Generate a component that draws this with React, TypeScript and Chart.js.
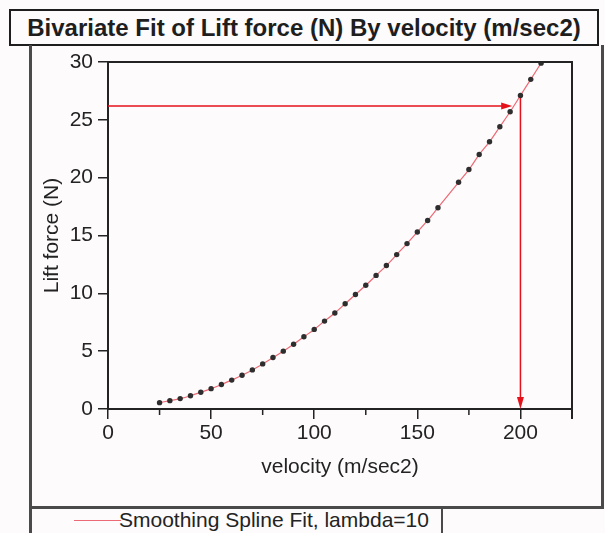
import React, { useEffect, useRef } from 'react';
import { Chart, registerables } from 'chart.js';

Chart.register(...registerables);

const FONT = 'Arial, "Liberation Sans", sans-serif';

const velocity = [25, 30, 35, 40, 45, 50, 55, 60, 65, 70, 75, 80, 85, 90, 95, 100, 105, 110, 115, 120, 125, 130, 135, 140, 145, 150, 155, 160, 170, 175, 180, 185, 190, 195, 200, 205, 210];
const liftForce = [0.55, 0.72, 0.9, 1.15, 1.45, 1.76, 2.12, 2.5, 2.92, 3.38, 3.9, 4.45, 5.0, 5.6, 6.25, 6.88, 7.6, 8.3, 9.1, 9.9, 10.7, 11.55, 12.4, 13.35, 14.3, 15.3, 16.3, 17.4, 19.6, 20.7, 22.0, 23.1, 24.4, 25.7, 27.1, 28.5, 29.9];

const xTicks = [0, 50, 100, 150, 200];
const xMinorTicks = [25, 75, 125, 175];
const yTicks = [0, 5, 10, 15, 20, 25, 30];
const xMax = 225;
const yMax = 30;

// hand-drawn reading arrows (data units)
const readLevel = 26.2;
const readArrowEndX = 196;
const readVelocity = 200;
const readTopY = 27.1;

const titleText = 'Bivariate Fit of Lift force (N) By velocity (m/sec2)';
const xTitle = 'velocity (m/sec2)';
const yTitle = 'Lift force (N)';
const legendText = 'Smoothing Spline Fit, lambda=10';

const RED = '#e5121c';
const SPLINE = '#ec6a76';
const INK = '#232323';

const framePlugin = {
  id: 'frameAndArrows',
  afterDraw(chart: any) {
    const { ctx, chartArea, scales } = chart;
    const { left, right, top, bottom } = chartArea;
    const xs = scales.x;
    const ys = scales.y;
    ctx.save();
    ctx.strokeStyle = INK;
    ctx.lineWidth = 2;
    ctx.beginPath();
    ctx.moveTo(left, top);
    ctx.lineTo(right, top);
    ctx.lineTo(right, bottom + 10);
    ctx.stroke();
    ctx.lineWidth = 1.5;
    ctx.beginPath();
    xMinorTicks.forEach((v) => {
      const px = xs.getPixelForValue(v);
      ctx.moveTo(px, bottom);
      ctx.lineTo(px, bottom + 6);
    });
    ctx.stroke();
    ctx.fillStyle = RED;
    const hx = xs.getPixelForValue(readArrowEndX);
    const hy = ys.getPixelForValue(readLevel);
    ctx.beginPath();
    ctx.moveTo(hx, hy);
    ctx.lineTo(hx - 11, hy - 3.5);
    ctx.lineTo(hx - 11, hy + 3.5);
    ctx.closePath();
    ctx.fill();
    const vx = xs.getPixelForValue(readVelocity);
    const vy = ys.getPixelForValue(0);
    ctx.beginPath();
    ctx.moveTo(vx, vy);
    ctx.lineTo(vx - 3.5, vy - 12);
    ctx.lineTo(vx + 3.5, vy - 12);
    ctx.closePath();
    ctx.fill();
    ctx.restore();
  },
};

export default function App() {
  const ref = useRef<HTMLCanvasElement | null>(null);

  useEffect(() => {
    if (!ref.current) return;
    const pts = velocity.map((v, i) => ({ x: v, y: liftForce[i] }));
    const chart = new Chart(ref.current, {
      type: 'scatter',
      data: {
        datasets: [
          {
            label: 'data',
            data: pts,
            pointRadius: 2.7,
            pointBackgroundColor: '#2e2e2e',
            pointBorderWidth: 0,
            showLine: false,
            order: 0,
          },
          {
            label: legendText,
            data: pts,
            showLine: true,
            borderColor: SPLINE,
            borderWidth: 1.2,
            pointRadius: 0,
            tension: 0.4,
            cubicInterpolationMode: 'monotone',
            order: 1,
          },
          {
            label: 'h-arrow',
            data: [{ x: 0, y: readLevel }, { x: readArrowEndX - 4, y: readLevel }],
            showLine: true,
            borderColor: RED,
            borderWidth: 1.5,
            pointRadius: 0,
            order: 2,
          },
          {
            label: 'v-arrow',
            data: [{ x: readVelocity, y: readTopY }, { x: readVelocity, y: 0.5 }],
            showLine: true,
            borderColor: RED,
            borderWidth: 1.5,
            pointRadius: 0,
            order: 2,
          },
        ],
      } as any,
      options: {
        animation: false,
        responsive: false,
        devicePixelRatio: 1,
        layout: { padding: { left: 30, top: 62, right: 33, bottom: 0 } },
        plugins: { legend: { display: false }, tooltip: { enabled: false }, title: { display: false } },
        scales: {
          x: {
            type: 'linear',
            position: 'bottom',
            min: 0,
            max: xMax,
            afterBuildTicks: (s: any) => {
              s.ticks = xTicks.map((v) => ({ value: v }));
            },
            afterFit: (s: any) => {
              s.height = 124;
            },
            ticks: { color: INK, font: { family: FONT, size: 21 }, padding: 2, maxRotation: 0 },
            grid: { drawOnChartArea: false, drawTicks: true, tickLength: 10, color: INK, lineWidth: 1.5 },
            border: { display: true, color: INK, width: 2 },
            title: { display: true, text: xTitle, color: INK, font: { family: FONT, size: 21 }, padding: { top: 0, bottom: 53 } },
          },
          y: {
            type: 'linear',
            min: 0,
            max: yMax,
            afterBuildTicks: (s: any) => {
              s.ticks = yTicks.map((v) => ({ value: v }));
            },
            afterFit: (s: any) => {
              s.width = 78;
            },
            ticks: { color: INK, font: { family: FONT, size: 21 }, padding: 5 },
            grid: { drawOnChartArea: false, drawTicks: true, tickLength: 10, color: INK, lineWidth: 1.5 },
            border: { display: true, color: INK, width: 2 },
            title: { display: true, text: yTitle, color: INK, font: { family: FONT, size: 21 }, padding: { top: 10, bottom: 0 } },
          },
        },
      } as any,
      plugins: [framePlugin],
    });
    return () => chart.destroy();
  }, []);

  return (
    <div style={{ position: 'absolute', left: 0, top: 0, width: 605, height: 533, overflow: 'hidden', background: '#fdfbfb', fontFamily: FONT }}>
      <div
        style={{
          position: 'absolute', left: 9, top: 9, width: 590, height: 37, boxSizing: 'border-box',
          border: '2px solid #1e1e1e', fontWeight: 'bold', fontSize: 24, color: '#1e1e1e',
          display: 'flex', alignItems: 'center', justifyContent: 'center', whiteSpace: 'nowrap',
        }}
      >
        {titleText}
      </div>
      <div
        style={{
          position: 'absolute', left: 29, top: 45, width: 575, height: 464, boxSizing: 'border-box',
          borderLeft: '3px solid #4a4a4a', borderRight: '3px solid #4a4a4a', borderBottom: '3px solid #4a4a4a',
        }}
      />
      <div
        style={{
          position: 'absolute', left: 29, top: 506, width: 414, height: 40, boxSizing: 'border-box',
          borderLeft: '3px solid #4a4a4a', borderRight: '2px solid #4a4a4a',
        }}
      >
        <div style={{ position: 'absolute', left: 42, top: 14, width: 47, height: 1, background: SPLINE }} />
        <div style={{ position: 'absolute', left: 87, top: 2, fontSize: 21, color: INK, whiteSpace: 'nowrap', lineHeight: '24px' }}>
          {legendText}
        </div>
      </div>
      <canvas ref={ref} width={605} height={533} style={{ position: 'absolute', left: 0, top: 0 }} />
    </div>
  );
}
